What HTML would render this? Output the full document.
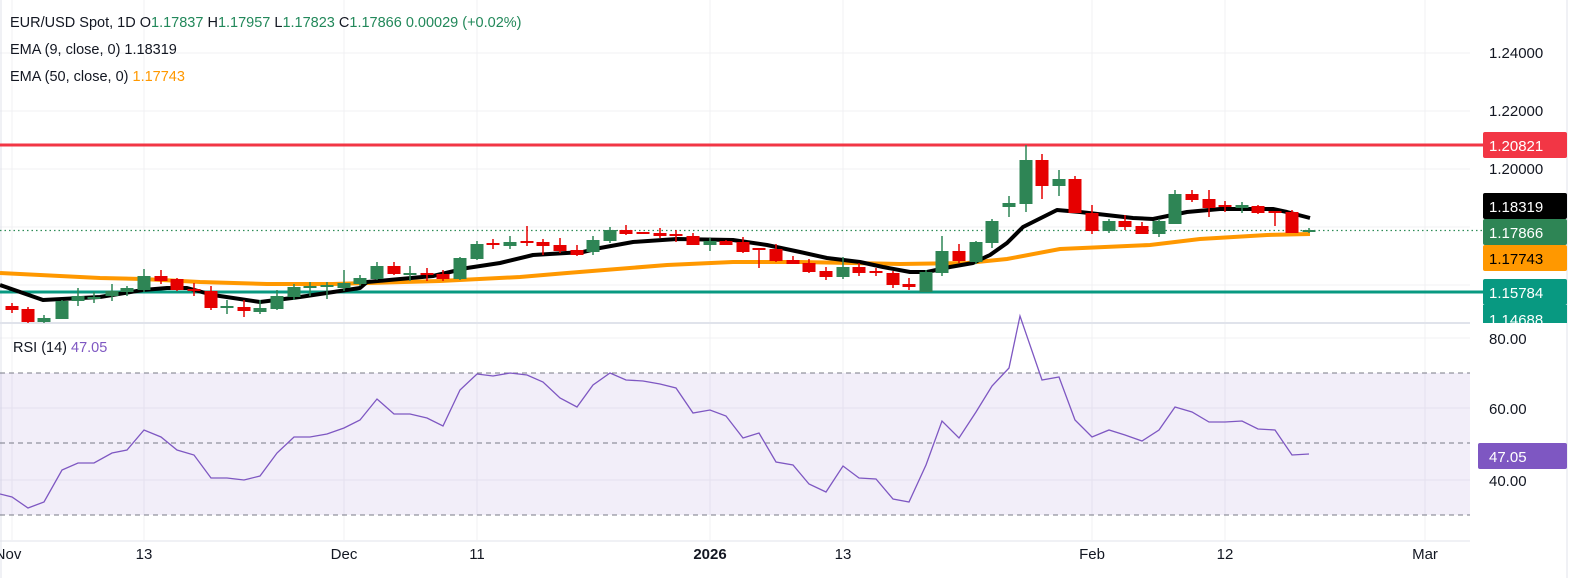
<!DOCTYPE html>
<html><head><meta charset="utf-8"><style>
body{margin:0;background:#fff;}
svg{display:block;font-family:"Liberation Sans",sans-serif;}
</style></head><body>
<svg id="s" width="1574" height="578" viewBox="0 0 1574 578" xmlns="http://www.w3.org/2000/svg">
<rect width="1574" height="578" fill="#fff"/>
<!-- grid -->
<g stroke="#f0f0f3" stroke-width="1">
<line x1="0" y1="53" x2="1470" y2="53"/><line x1="0" y1="111" x2="1470" y2="111"/><line x1="0" y1="169" x2="1470" y2="169"/><line x1="0" y1="227" x2="1470" y2="227"/><line x1="0" y1="285" x2="1470" y2="285"/>
<line x1="0" y1="338" x2="1470" y2="338"/><line x1="0" y1="408" x2="1470" y2="408"/><line x1="0" y1="480" x2="1470" y2="480"/>
<line x1="12" y1="0" x2="12" y2="540"/><line x1="144" y1="0" x2="144" y2="540"/><line x1="344" y1="0" x2="344" y2="540"/><line x1="477" y1="0" x2="477" y2="540"/><line x1="710" y1="0" x2="710" y2="540"/><line x1="843" y1="0" x2="843" y2="540"/><line x1="1092" y1="0" x2="1092" y2="540"/><line x1="1225" y1="0" x2="1225" y2="540"/><line x1="1425" y1="0" x2="1425" y2="540"/>
</g>
<line x1="0" y1="323" x2="1470" y2="323" stroke="#e0e3eb" stroke-width="2"/>
<line x1="0" y1="541" x2="1470" y2="541" stroke="#e0e3eb" stroke-width="1"/>
<line x1="1567" y1="0" x2="1567" y2="578" stroke="#e0e3eb"/>
<line x1="1" y1="0" x2="1" y2="578" stroke="#e0e3eb"/>
<!-- levels -->
<line x1="0" y1="145" x2="1483" y2="145" stroke="#f23645" stroke-width="3"/>
<line x1="0" y1="292" x2="1483" y2="292" stroke="#089981" stroke-width="3"/>
<line x1="0" y1="230.5" x2="1483" y2="230.5" stroke="#2e8b57" stroke-width="1.2" stroke-dasharray="1.5,3"/>
<!-- EMAs -->
<polyline fill="none" stroke="#ff9800" stroke-width="4" points="0,273 100,278 143,279 200,282 267,284 333,284 367,283 440,281 520,277 567,273 667,265 733,262 800,262 900,264 967,263 1007,259 1060,249 1150,245 1200,239 1267,235 1310,234"/>
<polyline fill="none" stroke="#000" stroke-width="4" stroke-linejoin="round" points="0,285 43,300 100,297 143,290 167,288 187,288 213,295 260,302 300,297 360,288 367,282 433,276 467,268 500,263 533,255 583,252 600,248 633,242 677,239 733,240 767,245 800,252 827,258 860,262 883,267 910,272 927,272 950,267 973,263 990,255 1007,243 1023,227 1057,210 1080,212 1133,218 1153,219 1187,212 1220,209 1273,209 1287,212 1310,218"/>
<g id="c"></g>
<!-- RSI -->
<rect x="0" y="373" width="1470" height="142" fill="#7e57c2" fill-opacity="0.1"/>
<g stroke="#787b86" stroke-width="1" stroke-dasharray="5,4">
<line x1="0" y1="373" x2="1470" y2="373"/><line x1="0" y1="443" x2="1470" y2="443"/><line x1="0" y1="515" x2="1470" y2="515"/>
</g>
<polyline fill="none" stroke="#7e57c2" stroke-width="1.3" points="0,494 12,497 28,508 44,502 62,470 78,463 94,463 112,453 127,450 144,430 161,437 177,450 194,455 211,478 227,478 244,480 260,476 277,453 294,437 310,437 327,434 344,428 360,420 377,399 394,414 410,414 427,418 443,426 460,390 477,374 493,376 510,373 527,375 543,382 560,398 577,407 593,385 610,373 626,380 643,381 660,384 676,388 693,413 710,410 726,416 743,438 759,433 776,462 793,465 809,484 826,492 843,466 859,478 876,479 893,499 909,502 926,465 942,421 959,438 976,412 992,386 1009,368 1020,316 1042,380 1059,377 1075,420 1092,437 1109,430 1125,435 1142,441 1159,430 1175,407 1192,412 1209,422 1225,422 1242,421 1258,429 1275,430 1292,455 1309,454"/>
<!-- legend -->
<g font-size="14.5" fill="#131722">
<text x="10" y="27">EUR/USD Spot, 1D  O<tspan fill="#22885a">1.17837</tspan>  H<tspan fill="#22885a">1.17957</tspan>  L<tspan fill="#22885a">1.17823</tspan>  C<tspan fill="#22885a">1.17866  0.00029 (+0.02%)</tspan></text>
<text x="10" y="54">EMA (9, close, 0)  1.18319</text>
<text x="10" y="81">EMA (50, close, 0)  <tspan fill="#ff9800">1.17743</tspan></text>
<text x="13" y="352">RSI (14)  <tspan fill="#7e57c2">47.05</tspan></text>
</g>
<!-- price axis -->
<g font-size="15" fill="#131722">
<text x="1489" y="58">1.24000</text><text x="1489" y="116">1.22000</text><text x="1489" y="174">1.20000</text>
<text x="1489" y="344">80.00</text><text x="1489" y="414">60.00</text><text x="1489" y="486">40.00</text>
</g>
<rect x="1483" y="132" width="84" height="26" rx="2" fill="#f23645"/>
<rect x="1483" y="193" width="84" height="26" rx="2" fill="#000"/>
<rect x="1483" y="219" width="84" height="26" rx="2" fill="#2e8555"/>
<rect x="1483" y="245" width="84" height="26" rx="2" fill="#ff9800"/>
<rect x="1483" y="279" width="84" height="26" rx="2" fill="#089981"/>
<rect x="1483" y="305" width="84" height="18" fill="#089981"/>
<rect x="1478" y="443" width="89" height="26" rx="2" fill="#7e57c2"/>
<g font-size="15" fill="#fff">
<text x="1489" y="151">1.20821</text><text x="1489" y="212">1.18319</text><text x="1489" y="238">1.17866</text>
<text x="1489" y="264" fill="#000">1.17743</text><text x="1489" y="298">1.15784</text>
<svg x="1483" y="305" width="84" height="18" overflow="hidden"><text x="6" y="20" font-size="15" fill="#fff">1.14688</text></svg>
<text x="1489" y="462">47.05</text>
</g>
<!-- time axis -->
<g font-size="15" fill="#131722" text-anchor="middle">
<text x="8" y="559">Nov</text><text x="144" y="559">13</text><text x="344" y="559">Dec</text><text x="477" y="559">11</text>
<text x="710" y="559" font-weight="bold">2026</text><text x="843" y="559">13</text><text x="1092" y="559">Feb</text><text x="1225" y="559">12</text><text x="1425" y="559">Mar</text>
</g>
</svg>
<script>
var d=[
[12,'r',306,310,303,313],[28,'r',309,322,307,323],[44,'g',318,322,315,323],[62,'g',301,319,300,319],[78,'g',296,301,288,306],[94,'g',297,299,292,303],[112,'g',291,296,284,301],[127,'g',288,292,286,296],[144,'g',276,290,269,292],[161,'r',276,281,270,284],[177,'r',279,290,278,291],[194,'r',289,291,283,296],[211,'r',291,308,286,310],[227,'g',306,308,300,314],[244,'r',307,311,300,317],[260,'g',308,312,300,314],[277,'g',296,309,290,310],[294,'g',287,297,284,300],[310,'g',286,288,282,296],[327,'g',285,287,282,299],[344,'g',283,288,270,291],[360,'g',278,284,275,286],
[377,'g',266,279,262,280],[394,'r',266,274,262,275],[410,'g',273,275,266,281],[427,'r',273,275,268,281],[443,'r',274,279,270,281],[460,'g',258,279,257,280],[477,'g',244,259,241,260],[493,'r',243,245,239,249],[510,'g',242,246,236,249],
[527,'r',241,243,226,246],[543,'r',242,246,239,255],[560,'r',245,251,238,253],[577,'r',250,255,245,256],[593,'g',240,252,236,255],[610,'g',230,241,227,243],[626,'r',230,234,225,235],[643,'r',232,234,232,234],[660,'r',233,236,228,238],[676,'r',234,236,230,242],[693,'r',236,245,233,245],[710,'g',241,245,238,251],[726,'r',241,245,240,245],[743,'r',242,252,237,253],[759,'r',248,250,248,268],[776,'r',249,261,244,262],[793,'r',260,264,256,264],[809,'r',263,272,259,273],[826,'r',271,277,267,280],[843,'g',267,277,257,279],[859,'r',267,273,263,276],[876,'r',271,273,268,276],[893,'r',273,285,271,288],[909,'r',284,287,278,290],[926,'g',272,292,270,292],[942,'g',251,273,236,276],[959,'r',251,261,244,263],[976,'g',242,262,241,264],[992,'g',221,243,219,248],
[1009,'g',203,207,196,217],[1026,'g',160,204,145,212],[1042,'r',160,186,154,199],[1059,'g',179,186,170,196],[1075,'r',179,213,176,213],[1092,'r',213,231,205,234],[1109,'g',221,231,219,233],[1125,'r',221,227,215,230],[1142,'r',226,234,222,234],[1159,'g',221,234,219,237],[1175,'g',194,224,190,224],[1192,'r',194,200,190,202],[1209,'r',199,208,190,217],[1225,'r',205,207,201,212],[1242,'g',205,208,202,213],[1258,'r',206,213,205,214],[1275,'r',211,213,211,226],[1292,'r',212,233,210,233],[1309,'g',230,232,228,233]];
var s='';d.forEach(function(c){var col=c[1]=='r'?'#e60000':'#2e8555';s+='<line x1="'+c[0]+'" x2="'+c[0]+'" y1="'+c[4]+'" y2="'+c[5]+'" stroke="'+col+'" stroke-width="1.5"/><rect x="'+(c[0]-6.5)+'" y="'+c[2]+'" width="13" height="'+Math.max(1.5,c[3]-c[2])+'" fill="'+col+'"/>';});
document.getElementById('c').innerHTML=s;
</script>
</body></html>
